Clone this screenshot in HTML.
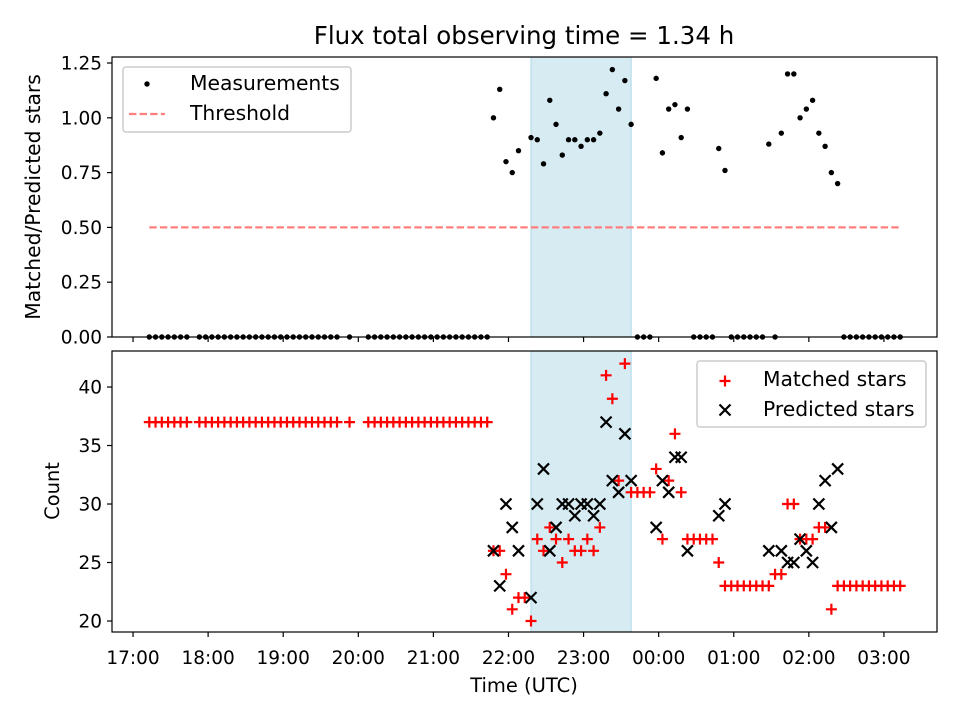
<!DOCTYPE html>
<html><head><meta charset="utf-8"><style>
body{margin:0;background:#fff;}
svg{display:block;font-family:"DejaVu Sans","Liberation Sans",sans-serif;}
</style></head><body>
<svg id="chart" width="960" height="720" viewBox="0 0 960 720" xmlns="http://www.w3.org/2000/svg">
<text x="524" y="44" font-size="24.5" text-anchor="middle">Flux total observing time = 1.34 h</text>
</svg>
<script>
// time index k: minutes after 17:00 = 3 + 5k
const zeroK = [2,3,4,5,6,7,8,10,11,12,13,14,15,16,17,18,19,20,21,22,23,24,25,26,27,28,29,30,31,32,34,37,38,39,40,41,42,43,44,45,46,47,48,49,50,51,52,53,54,55,56,80,81,82,89,90,91,92,95,96,97,98,99,100,102,113,114,115,116,117,118,119,120,121,122];
const ratioK = [57,58,59,60,61,63,64,65,66,67,68,69,70,71,72,73,74,75,76,77,78,79,83,84,85,86,87,88,93,94,101,103,104,105,106,107,108,109,110,111,112];
const ratioV = [1.00,1.13,0.80,0.75,0.85,0.91,0.90,0.79,1.08,0.97,0.83,0.90,0.90,0.87,0.90,0.90,0.93,1.11,1.22,1.04,1.17,0.97,1.18,0.84,1.04,1.06,0.91,1.04,0.86,0.76,0.88,0.93,1.20,1.20,1.00,1.04,1.08,0.93,0.87,0.75,0.70];
const matchedK = [57,58,59,60,61,62,63,64,65,66,67,68,69,70,71,72,73,74,75,76,77,78,79,80,81,82,83,84,85,86,87,88,89,90,91,92,93,94,95,96,97,98,99,100,101,102,103,104,105,106,107,108,109,110,111,112,113,114,115,116,117,118,119,120,121,122];
const matchedV = [26,26,24,21,22,22,20,27,26,28,27,25,27,26,26,27,26,28,41,39,32,42,31,31,31,31,33,27,32,36,31,27,27,27,27,27,25,23,23,23,23,23,23,23,23,24,24,30,30,27,27,27,28,28,21,23,23,23,23,23,23,23,23,23,23,23];
const predictedK = [57,58,59,60,61,63,64,65,66,67,68,69,70,71,72,73,74,75,76,77,78,79,83,84,85,86,87,88,93,94,101,103,104,105,106,107,108,109,110,111,112];
const predictedV = [26,23,30,28,26,22,30,33,26,28,30,30,29,30,30,29,30,37,32,31,36,32,28,32,31,34,34,26,29,30,26,26,25,25,27,26,25,30,32,28,33];
const leftMatchedV = 37;
const threshold = 0.5;
const shadeStartMin = 318, shadeEndMin = 398;
const xTickLabels = ["17:00","18:00","19:00","20:00","21:00","22:00","23:00","00:00","01:00","02:00","03:00"];
const topYTicks = [0,0.25,0.5,0.75,1.0,1.25];
const botYTicks = [20,25,30,35,40];

const svg = document.getElementById('chart');
const NS = "http://www.w3.org/2000/svg";
const FS = 18.5, LFS = 20.3;
function el(tag, attrs, parent){const e=document.createElementNS(NS,tag);for(const k in attrs)e.setAttribute(k,attrs[k]);(parent||svg).appendChild(e);return e;}
const X0=112,X1=937;
const tMin=-16.8,tMax=642.4;
const xs = m => X0+(m-tMin)/(tMax-tMin)*(X1-X0);
const kMin = k => 3+5*k;
const T={top:57,bot:337,ymin:0,ymax:1.2774};
const B={top:351,bot:632,ymin:19.06,ymax:43.08};
const yT = v => T.bot-(v-T.ymin)/(T.ymax-T.ymin)*(T.bot-T.top);
const yB = v => B.bot-(v-B.ymin)/(B.ymax-B.ymin)*(B.bot-B.top);

[[T],[B]].forEach(([P],i)=>{
  const r=el('rect',{x:xs(shadeStartMin),y:P.top,width:xs(shadeEndMin)-xs(shadeStartMin),height:P.bot-P.top,fill:'#add8e6','fill-opacity':0.5,stroke:'#add8e6'});
  
  
});

const allK=zeroK.concat(ratioK);
const tl=el('line',{x1:xs(kMin(Math.min(...allK))),x2:xs(kMin(Math.max(...allK))),y1:yT(threshold),y2:yT(threshold),stroke:'#ff7f7f','stroke-width':2.2,'stroke-dasharray':'7.4,3.2'});



zeroK.forEach(k=>{const c=el('circle',{cx:xs(kMin(k)),cy:yT(0),r:2.7,fill:'#000'});

});
ratioK.forEach((k,i)=>{const c=el('circle',{cx:xs(kMin(k)),cy:yT(ratioV[i]),r:2.7,fill:'#000'});

});

function plus(x,y,name){const g=el('path',{d:`M${x-5.5},${y}H${x+5.5}M${x},${y-5.5}V${y+5.5}`,stroke:'#f00','stroke-width':2.2});

}
function cross(x,y,name){const g=el('path',{d:`M${x-5.5},${y-5.5}L${x+5.5},${y+5.5}M${x-5.5},${y+5.5}L${x+5.5},${y-5.5}`,stroke:'#000','stroke-width':2.2});

}
zeroK.filter(k=>k<57).forEach(k=>plus(xs(kMin(k)),yB(leftMatchedV),'matched-star-point'));
matchedK.forEach((k,i)=>plus(xs(kMin(k)),yB(matchedV[i]),'matched-star-point'));
predictedK.forEach((k,i)=>cross(xs(kMin(k)),yB(predictedV[i]),'predicted-star-point'));

[[T,'top-axes-frame'],[B,'bottom-axes-frame']].forEach(([P,n])=>{
  const r=el('rect',{x:X0,y:P.top,width:X1-X0,height:P.bot-P.top,fill:'none',stroke:'#000','stroke-width':1.2});
  
  
});
xTickLabels.forEach((lab,i)=>{
  const x=xs(i*60);
  el('line',{x1:x,x2:x,y1:T.bot,y2:T.bot+5,stroke:'#000','stroke-width':1.2});
  el('line',{x1:x,x2:x,y1:B.bot,y2:B.bot+5,stroke:'#000','stroke-width':1.2});
  const t=el('text',{x:x,y:B.bot+32,'font-size':FS,'text-anchor':'middle'});
  t.textContent=lab;
  
  
});
topYTicks.forEach(v=>{
  const y=yT(v);
  el('line',{x1:X0-5,x2:X0,y1:y,y2:y,stroke:'#000','stroke-width':1.2});
  const t=el('text',{x:X0-10,y:y+6.5,'font-size':FS,'text-anchor':'end'});
  t.textContent=v.toFixed(2);
  
  
});
botYTicks.forEach(v=>{
  const y=yB(v);
  el('line',{x1:X0-5,x2:X0,y1:y,y2:y,stroke:'#000','stroke-width':1.2});
  const t=el('text',{x:X0-10,y:y+6.5,'font-size':FS,'text-anchor':'end'});
  t.textContent=v;
  
  
});
let t;
t=el('text',{x:524,y:692,'font-size':LFS*0.96,'text-anchor':'middle'});t.textContent='Time (UTC)';


t=el('text',{x:0,y:0,'font-size':LFS,'text-anchor':'middle',transform:'translate(40,197) rotate(-90)'});t.textContent='Matched/Predicted stars';


t=el('text',{x:0,y:0,'font-size':LFS*0.96,'text-anchor':'middle',transform:'translate(59,491) rotate(-90)'});t.textContent='Count';



let lg=el('rect',{x:123,y:67,width:228,height:65,rx:3,fill:'#fff','fill-opacity':0.8,stroke:'#ccc','stroke-width':1.5});


el('circle',{cx:147,cy:84,r:2.7,fill:'#000'});
t=el('text',{x:190,y:90,'font-size':LFS});t.textContent='Measurements';


el('line',{x1:129,x2:165,y1:114,y2:114,stroke:'#ff7f7f','stroke-width':2.2,'stroke-dasharray':'7.4,3.2'});
t=el('text',{x:190,y:120,'font-size':LFS});t.textContent='Threshold';



lg=el('rect',{x:697,y:361,width:229,height:66,rx:3,fill:'#fff','fill-opacity':0.8,stroke:'#ccc','stroke-width':1.5});


plus(725,381,'legend-marker-matched');
t=el('text',{x:763,y:386,'font-size':LFS});t.textContent='Matched stars';


cross(725,410,'legend-marker-predicted');
t=el('text',{x:763,y:416,'font-size':LFS});t.textContent='Predicted stars';


</script>
</body></html>
